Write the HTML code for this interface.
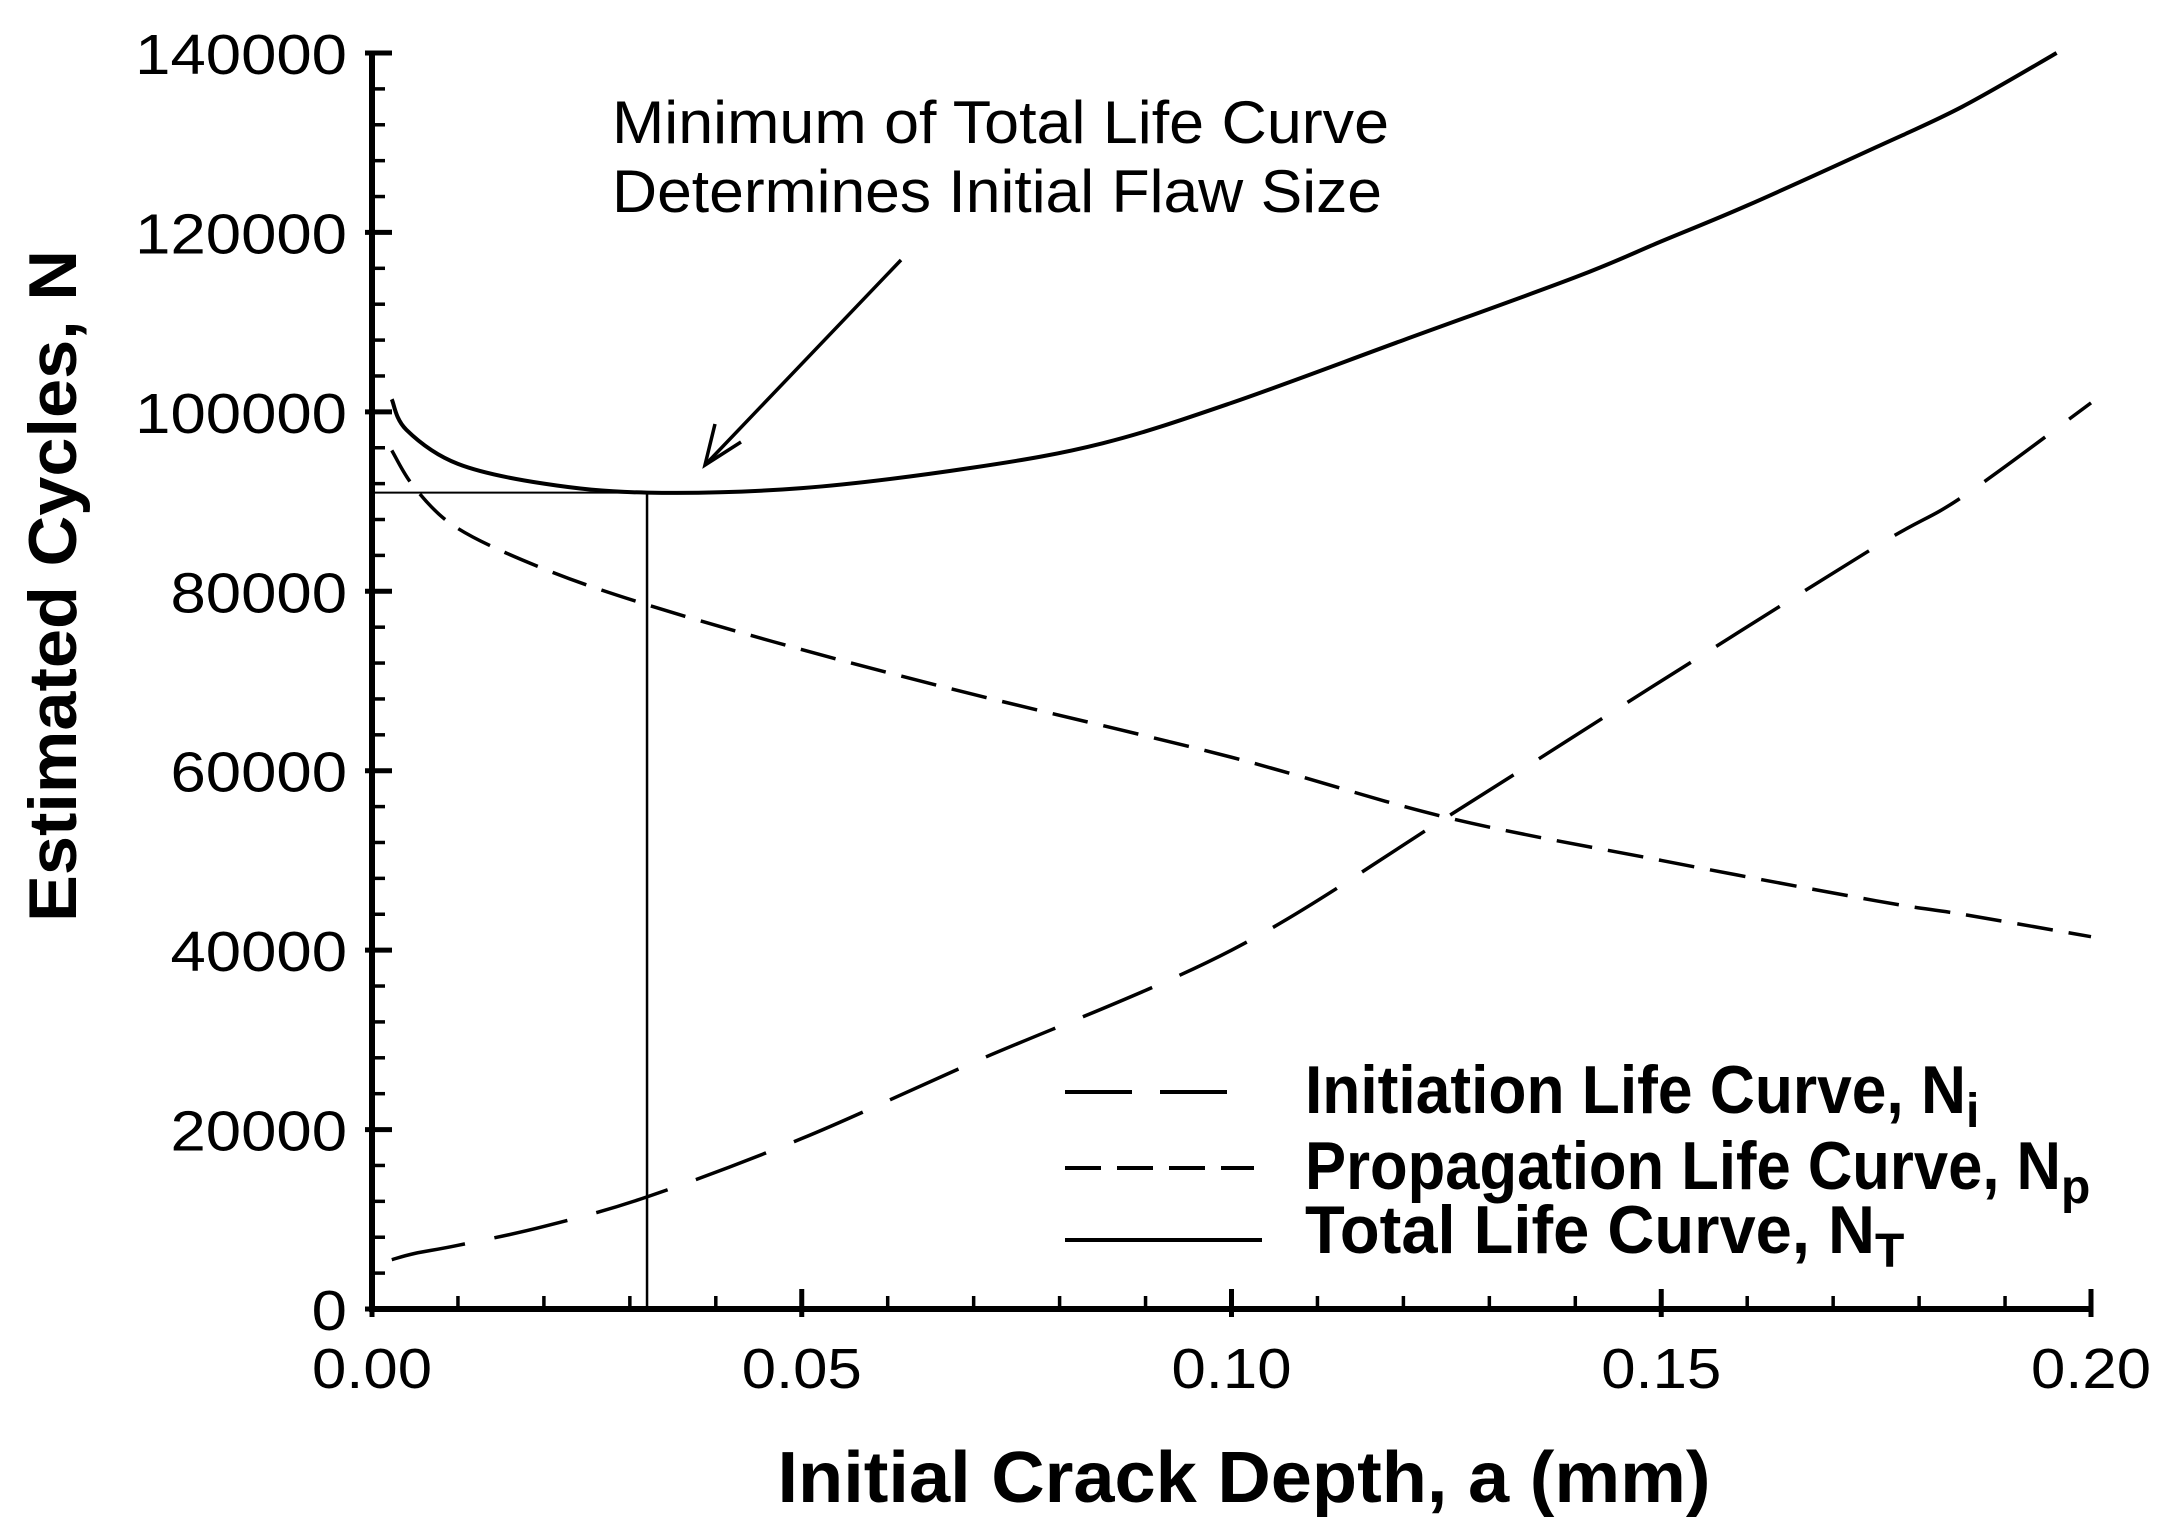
<!DOCTYPE html>
<html>
<head>
<meta charset="utf-8">
<style>
html,body{margin:0;padding:0;background:#fff;}
svg{display:block;}
text{font-family:"Liberation Sans",Arial,sans-serif;fill:#000;}
</style>
</head>
<body>
<svg id="chart" width="2165" height="1530" viewBox="0 0 2165 1530" xmlns="http://www.w3.org/2000/svg">
  <g id="axes"></g>
  <g id="series"></g>
  <g>
    <text x="612" y="143" font-size="60" textLength="777" lengthAdjust="spacingAndGlyphs">Minimum of Total Life Curve</text>
    <text x="612" y="212" font-size="60" textLength="770" lengthAdjust="spacingAndGlyphs">Determines Initial Flaw Size</text>
    <line x1="901" y1="260" x2="707" y2="463" stroke="#000" stroke-width="3.5"/>
    <polyline points="715,424 705,465 741,442" fill="none" stroke="#000" stroke-width="3.5"/>
  </g>
  <g>
    <line x1="1065" y1="1092" x2="1254" y2="1092" stroke="#000" stroke-width="4" stroke-dasharray="67,28"/>
    <text x="1305" y="1113" font-size="68" font-weight="bold"><tspan textLength="661" lengthAdjust="spacingAndGlyphs">Initiation Life Curve, N</tspan><tspan font-size="48" dy="14">i</tspan></text>
    <line x1="1065" y1="1168" x2="1254" y2="1168" stroke="#000" stroke-width="4" stroke-dasharray="36,16"/>
    <text x="1305" y="1189" font-size="68" font-weight="bold"><tspan textLength="756" lengthAdjust="spacingAndGlyphs">Propagation Life Curve, N</tspan><tspan font-size="48" dy="14">p</tspan></text>
    <line x1="1065" y1="1240" x2="1262" y2="1240" stroke="#000" stroke-width="4"/>
    <text x="1305" y="1253" font-size="68" font-weight="bold"><tspan textLength="570" lengthAdjust="spacingAndGlyphs">Total Life Curve, N</tspan><tspan font-size="48" dy="14">T</tspan></text>
  </g>
  <text x="1244" y="1502" font-size="72" font-weight="bold" text-anchor="middle" textLength="933" lengthAdjust="spacingAndGlyphs">Initial Crack Depth, a (mm)</text>
  <text transform="translate(76,586) rotate(-90)" x="0" y="0" font-size="68" font-weight="bold" text-anchor="middle" textLength="672" lengthAdjust="spacingAndGlyphs">Estimated Cycles, N</text>
</svg>
<script>
const xTicks = [0, 0.05, 0.10, 0.15, 0.20];
const xTickLabels = ["0.00", "0.05", "0.10", "0.15", "0.20"];
const yTicks = [0, 20000, 40000, 60000, 80000, 100000, 120000, 140000];
const yTickLabels = ["0", "20000", "40000", "60000", "80000", "100000", "120000", "140000"];
const depth = [0.0023, 0.005, 0.01, 0.02, 0.032, 0.05, 0.07, 0.10, 0.125, 0.15, 0.175, 0.185, 0.20];
const initiation = [5500, 6200, 7100, 9200, 12500, 19000, 27500, 40000, 54800, 70000, 85000, 90500, 101000];
const propagation = [95700, 91500, 87000, 82500, 78500, 73500, 68500, 61500, 54800, 50000, 45500, 44000, 41500];
const totalDepth = [0.0023, 0.004, 0.01, 0.02, 0.032, 0.05, 0.07, 0.085, 0.10, 0.12, 0.14, 0.15, 0.16, 0.175, 0.185, 0.196];
const total = [101400, 98000, 94200, 92000, 91000, 91500, 93800, 96500, 101000, 108000, 115000, 119000, 123000, 129500, 134000, 140000];
const minDepth = 0.032;
const minCycles = 91000;

const X0 = 372, X1 = 2091, Y0 = 1309, Y1 = 53;
const XMAX = 0.2, YMAX = 140000;
function sx(v){ return X0 + v / XMAX * (X1 - X0); }
function sy(v){ return Y0 - v / YMAX * (Y0 - Y1); }
const NS = "http://www.w3.org/2000/svg";
function mk(tag, attrs, parent){
  const e = document.createElementNS(NS, tag);
  for (const k in attrs) e.setAttribute(k, attrs[k]);
  parent.appendChild(e);
  return e;
}
const axes = document.getElementById('axes');
const series = document.getElementById('series');

let el = mk('line', {x1: X0, y1: Y0, x2: X1 + 2, y2: Y0, stroke: '#000', 'stroke-width': 6}, axes);


el = mk('line', {x1: X0, y1: Y0 + 3, x2: X0, y2: Y1 - 2, stroke: '#000', 'stroke-width': 6}, axes);



for (let i = 1; i < 20; i++) {
  if (i % 5 === 0) continue;
  const t = mk('line', {x1: sx(i * 0.01), y1: Y0, x2: sx(i * 0.01), y2: Y0 - 13, stroke: '#000', 'stroke-width': 3.5}, axes);
  
  
}
xTicks.forEach((v, i) => {
  const t = mk('line', {x1: sx(v), y1: Y0 + 8, x2: sx(v), y2: Y0 - 20, stroke: '#000', 'stroke-width': 5}, axes);
  
  
  const lb = mk('text', {x: sx(v), y: 1388, 'font-size': 57, 'text-anchor': 'middle', textLength: 120, lengthAdjust: 'spacingAndGlyphs'}, axes);
  lb.textContent = xTickLabels[i];
  
  
});
for (let v = 4000; v < YMAX; v += 4000) {
  if (v % 20000 === 0) continue;
  const t = mk('line', {x1: X0, y1: sy(v), x2: X0 + 13, y2: sy(v), stroke: '#000', 'stroke-width': 3.5}, axes);
  
  
}
yTicks.forEach((v, i) => {
  const t = mk('line', {x1: X0 - 7, y1: sy(v), x2: X0 + 20, y2: sy(v), stroke: '#000', 'stroke-width': 5}, axes);
  
  
  const len = yTickLabels[i].length * 35.3;
  const lb = mk('text', {x: 347, y: sy(v) + 21, 'font-size': 57, 'text-anchor': 'end', textLength: len, lengthAdjust: 'spacingAndGlyphs'}, axes);
  lb.textContent = yTickLabels[i];
  
  
});

function pathFor(xs, ys){
  const p = xs.map((x, i) => [sx(x), sy(ys[i])]);
  let d = 'M' + p[0][0] + ',' + p[0][1];
  for (let i = 0; i < p.length - 1; i++) {
    const a = p[i - 1] || p[i], b = p[i], c = p[i + 1], e = p[i + 2] || c;
    const c1 = [b[0] + (c[0] - a[0]) / 6, b[1] + (c[1] - a[1]) / 6];
    const c2 = [c[0] - (e[0] - b[0]) / 6, c[1] - (e[1] - b[1]) / 6];
    d += ' C' + c1[0] + ',' + c1[1] + ' ' + c2[0] + ',' + c2[1] + ' ' + c[0] + ',' + c[1];
  }
  return d;
}

el = mk('line', {x1: X0, y1: sy(minCycles), x2: sx(minDepth), y2: sy(minCycles), stroke: '#000', 'stroke-width': 2}, series);


el = mk('line', {x1: sx(minDepth), y1: sy(minCycles), x2: sx(minDepth), y2: Y0, stroke: '#000', 'stroke-width': 2.5}, series);



el = mk('path', {d: pathFor(depth, initiation), fill: 'none', stroke: '#000', 'stroke-width': 3.5, 'stroke-dasharray': '75,30'}, series);


el = mk('path', {d: pathFor(depth, propagation), fill: 'none', stroke: '#000', 'stroke-width': 3.5, 'stroke-dasharray': '36,16'}, series);


el = mk('path', {d: pathFor(totalDepth, total), fill: 'none', stroke: '#000', 'stroke-width': 4}, series);


</script>
</body>
</html>
